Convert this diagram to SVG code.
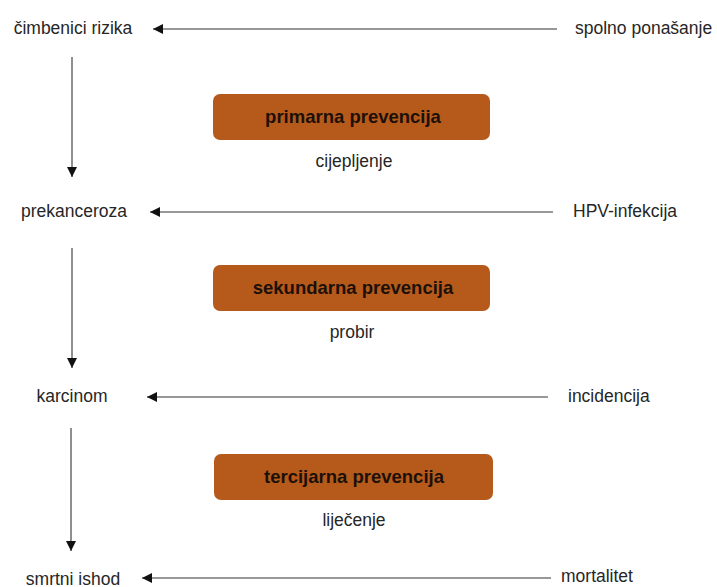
<svg xmlns="http://www.w3.org/2000/svg" width="717" height="587" viewBox="0 0 717 587">
<defs>
<marker id="ah" markerUnits="userSpaceOnUse" markerWidth="12" markerHeight="12" viewBox="0 0 12 12" refX="11" refY="6" orient="auto">
<path d="M1,1 L11,6 L1,11 Z" fill="#111"/>
</marker>
</defs>
<style>
.lbl{font-family:"Liberation Sans",Arial,sans-serif;font-size:17.5px;fill:#262626}
.mid{text-anchor:middle}
.box{fill:#B65A1C}
.bt{font-family:"Liberation Sans",Arial,sans-serif;font-size:18.5px;font-weight:bold;fill:#1c1008;text-anchor:middle}
.ln{stroke:#333;stroke-width:1.1;fill:none;marker-end:url(#ah)}
</style>
<rect width="717" height="587" fill="#fff"/>
<g id="connectors">
<line class="ln" x1="557" y1="29" x2="153" y2="29"/>
<line class="ln" x1="553" y1="212" x2="150" y2="212"/>
<line class="ln" x1="548" y1="397" x2="147" y2="397"/>
<line class="ln" x1="551" y1="578" x2="142" y2="578"/>
<line class="ln" x1="72" y1="57" x2="72" y2="177"/>
<line class="ln" x1="72" y1="248" x2="72" y2="368"/>
<line class="ln" x1="71" y1="428" x2="71" y2="551"/>
</g>
<g id="n-cimbenici"><text class="lbl mid" x="73" y="33.5">čimbenici rizika</text></g>
<g id="n-spolno"><text class="lbl" x="575" y="33.5">spolno ponašanje</text></g>
<g id="n-primarna"><rect class="box" x="213" y="94" width="277" height="46" rx="7"/><text class="bt" x="353" y="123">primarna prevencija</text></g>
<g id="n-cijepljenje"><text class="lbl mid" x="354" y="167">cijepljenje</text></g>
<g id="n-prekanceroza"><text class="lbl mid" x="74" y="216.5">prekanceroza</text></g>
<g id="n-hpv"><text class="lbl" x="573" y="216.5">HPV-infekcija</text></g>
<g id="n-sekundarna"><rect class="box" x="213" y="265" width="277" height="46" rx="7"/><text class="bt" x="353" y="294">sekundarna prevencija</text></g>
<g id="n-probir"><text class="lbl mid" x="352" y="338">probir</text></g>
<g id="n-karcinom"><text class="lbl mid" x="72" y="401.5">karcinom</text></g>
<g id="n-incidencija"><text class="lbl" x="568" y="401.5">incidencija</text></g>
<g id="n-tercijarna"><rect class="box" x="214" y="454" width="279" height="46" rx="7"/><text class="bt" x="354" y="483">tercijarna prevencija</text></g>
<g id="n-lijecenje"><text class="lbl mid" x="354" y="526">liječenje</text></g>
<g id="n-smrtni"><text class="lbl mid" x="73" y="584.5">smrtni ishod</text></g>
<g id="n-mortalitet"><text class="lbl" x="561" y="582">mortalitet</text></g>
</svg>
